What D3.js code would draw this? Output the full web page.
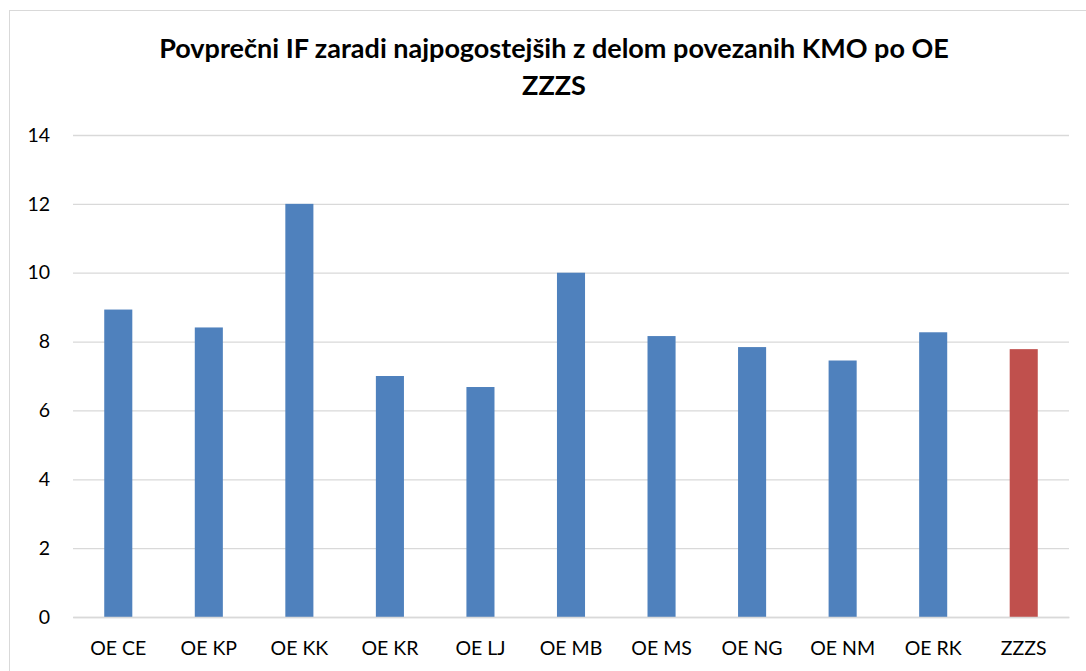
<!DOCTYPE html>
<html>
<head>
<meta charset="utf-8">
<script src="https://cdn.jsdelivr.net/npm/d3@7"></script>
<style>
  body { margin: 0; background: #fff; }
  text { font-family: Lato, "Open Sans", sans-serif; }
</style>
</head>
<body>
<svg width="1086" height="671"></svg>
<script>
var categories = ["OE CE", "OE KP", "OE KK", "OE KR", "OE LJ", "OE MB", "OE MS", "OE NG", "OE NM", "OE RK", "ZZZS"];
var values = [8.93, 8.41, 12.0, 7.0, 6.68, 10.0, 8.16, 7.84, 7.45, 8.27, 7.78];
var yTicks = [0, 2, 4, 6, 8, 10, 12, 14];
var titleLines = ["Povprečni IF zaradi najpogostejših z delom povezanih KMO po OE", "ZZZS"];

var svg = d3.select("svg"),
  margin = {top: 135, right: 17, bottom: 54, left: 73},
  width = +svg.attr("width") - margin.left - margin.right,
  height = +svg.attr("height") - margin.top - margin.bottom;

// outer frame (right and bottom edges run off the picture)
svg.append("rect")
  .attr("x", 9.5).attr("y", 10.5)
  .attr("width", 1090).attr("height", 680)
  .attr("fill", "none").attr("stroke", "#d9d9d9").attr("stroke-width", 1);

svg.append("g").selectAll("text")
  .data(titleLines)
  .enter().append("text")
  .attr("x", 554)
  .attr("y", function(d, i) { return 58 + i * 37; })
  .attr("text-anchor", "middle")
  .attr("font-size", 27)
  .attr("font-weight", "bold")
  .attr("fill", "#000")
  .text(function(d) { return d; });

var x = d3.scaleBand().domain(categories).range([0, width]).paddingInner(0.69).paddingOuter(0.345);
var y = d3.scaleLinear().domain([0, 14]).range([height, 0]);

var g = svg.append("g").attr("transform", "translate(" + margin.left + "," + margin.top + ")");

g.append("g")
  .call(d3.axisLeft(y).tickValues(yTicks).tickSize(-width).tickFormat(d3.format("d")))
  .call(function(a) {
    a.select(".domain").remove();
    a.selectAll(".tick line").attr("stroke", "#d9d9d9").attr("stroke-width", 1.3);
    a.selectAll(".tick text").attr("x", -23).attr("font-size", 19.5).attr("fill", "#000")
      .attr("text-anchor", "end");
  });

g.append("g").selectAll("rect")
  .data(values)
  .enter().append("rect")
  .attr("x", function(d, i) { return x(categories[i]); })
  .attr("y", function(d) { return y(d); })
  .attr("width", x.bandwidth())
  .attr("height", function(d) { return height - y(d); })
  .attr("fill", function(d, i) { return categories[i] === "ZZZS" ? "#c0504d" : "#4f81bd"; });

g.append("g")
  .attr("transform", "translate(0," + height + ")")
  .call(d3.axisBottom(x).tickSize(0).tickPadding(24))
  .call(function(a) {
    a.select(".domain").attr("stroke", "#d9d9d9").attr("stroke-width", 1.3);
    a.selectAll(".tick text").attr("font-size", 19.5).attr("fill", "#000");
  });
</script>
</body>
</html>
